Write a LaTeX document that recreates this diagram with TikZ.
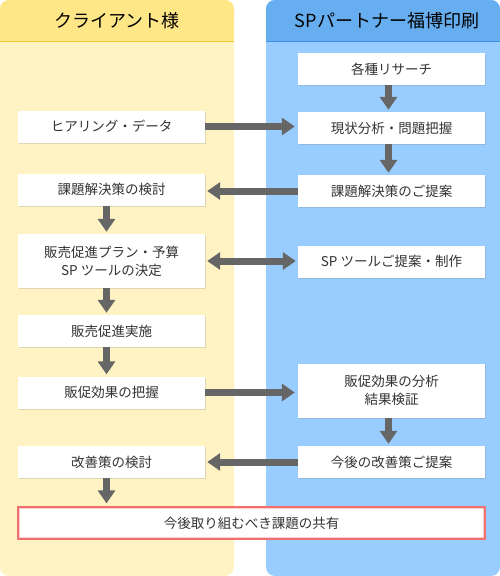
\documentclass[tikz,border=0pt]{standalone}
\usepackage{fontspec}
\setmainfont{Noto Sans CJK JP}
\usetikzlibrary{arrows.meta,shadows}
\definecolor{lhead}{HTML}{FFE687}
\definecolor{lbody}{HTML}{FFF3C4}
\definecolor{lline}{HTML}{F2C62E}
\definecolor{rhead}{HTML}{66AEF0}
\definecolor{rbody}{HTML}{99CCFF}
\definecolor{rline}{HTML}{3F8FE2}
\definecolor{arr}{HTML}{666666}
\definecolor{txt}{HTML}{333333}
\definecolor{redb}{HTML}{F07070}
\tikzset{
  stepbox/.style={draw=none,fill=white,minimum width=187pt,minimum height=32pt,
    inner sep=0pt,align=center,font=\fontsize{13.5pt}{18pt}\selectfont,text=txt,
    drop shadow={opacity=0.25,shadow xshift=1pt,shadow yshift=-1pt}},
  tallbox/.style={stepbox,minimum height=54pt},
  bigarrow/.style={draw=arr,line width=7pt,-{Triangle[width=17pt,length=13pt]}},
  bigdarrow/.style={draw=arr,line width=7pt,{Triangle[width=17pt,length=13pt]}-{Triangle[width=17pt,length=13pt]}},
  headtxt/.style={font=\fontsize{18pt}{22pt}\selectfont,text=black}
}
\begin{document}
\begin{tikzpicture}[x=1pt,y=-1pt]
\useasboundingbox (0,0) rectangle (500,576);
% columns
\fill[lbody,rounded corners=9pt] (0,0) rectangle (234,576);
\fill[lhead,rounded corners=9pt] (0,0) rectangle (234,30);
\fill[lhead] (0,20) rectangle (234,42);
\draw[lline,line width=1pt] (0,41.5) -- (234,41.5);
\fill[rbody,rounded corners=9pt] (266,0) rectangle (500,576);
\fill[rhead,rounded corners=9pt] (266,0) rectangle (500,30);
\fill[rhead] (266,20) rectangle (500,42);
\draw[rline,line width=1pt] (266,41.5) -- (500,41.5);
\node[headtxt] (hl) at (117,21) {クライアント様};
\node[headtxt] (hr) at (387,21) {SPパートナー福博印刷};
% boxes
\node[stepbox] (r1) at (391.5,69) {各種リサーチ};
\node[stepbox] (l1) at (111.5,126.5) {ヒアリング・データ};
\node[stepbox] (r2) at (391.5,128) {現状分析・問題把握};
\node[stepbox] (l2) at (111.5,189.5) {課題解決策の検討};
\node[stepbox] (r3) at (391.5,191) {課題解決策のご提案};
\node[tallbox] (l3) at (111.5,261) {販売促進プラン・予算\\SP ツールの決定};
\node[stepbox] (r4) at (391.5,261.5) {SP ツールご提案・制作};
\node[stepbox] (l4) at (111.5,331) {販売促進実施};
\node[stepbox] (l5) at (111.5,392.5) {販促効果の把握};
\node[tallbox] (r5) at (391.5,390.5) {販促効果の分析\\結果検証};
\node[stepbox] (l6) at (111.5,462) {改善策の検討};
\node[stepbox] (r6) at (391.5,462) {今後の改善策ご提案};
\node[stepbox,minimum width=467pt,draw=redb,line width=1.3pt,
  drop shadow={opacity=0.15,shadow xshift=0pt,shadow yshift=0pt}] (fin) at (251.5,523) {今後取り組むべき課題の共有};
\draw[red!20,line width=1.5pt] ([xshift=2pt,yshift=-2pt]fin.north west) rectangle ([xshift=-2pt,yshift=2pt]fin.south east);
% vertical arrows (right)
\draw[bigarrow,shorten >=2pt] ([xshift=-3pt]r1.south) -- ([xshift=-3pt]r2.north);
\draw[bigarrow,shorten >=2pt] ([xshift=-3pt]r2.south) -- ([xshift=-3pt]r3.north);
\draw[bigarrow,shorten >=2pt] ([xshift=-3pt]r5.south) -- ([xshift=-3pt]r6.north);
% vertical arrows (left)
\draw[bigarrow,shorten >=2pt] ([xshift=-5pt]l2.south) -- ([xshift=-5pt]l3.north);
\draw[bigarrow,shorten >=2pt] ([xshift=-5pt]l3.south) -- ([xshift=-5pt]l4.north);
\draw[bigarrow,shorten >=2pt] ([xshift=-5pt]l4.south) -- ([xshift=-5pt]l5.north);
\draw[bigarrow,shorten >=3pt] ([xshift=-5pt]l6.south) -- ([xshift=-5pt]l6.south |- fin.north);
% horizontal arrows
\draw[bigarrow,shorten >=3pt] (l1.east) -- (l1.east -| r2.west);
\draw[bigarrow,shorten >=2pt] (r3.west) -- (r3.west -| l2.east);
\draw[bigdarrow,shorten >=2pt,shorten <=2pt] (l3.east) -- (l3.east -| r4.west);
\draw[bigarrow,shorten >=3pt] (l5.east) -- (l5.east -| r5.west);
\draw[bigarrow,shorten >=2pt] (r6.west) -- (r6.west -| l6.east);
\end{tikzpicture}
\end{document}
